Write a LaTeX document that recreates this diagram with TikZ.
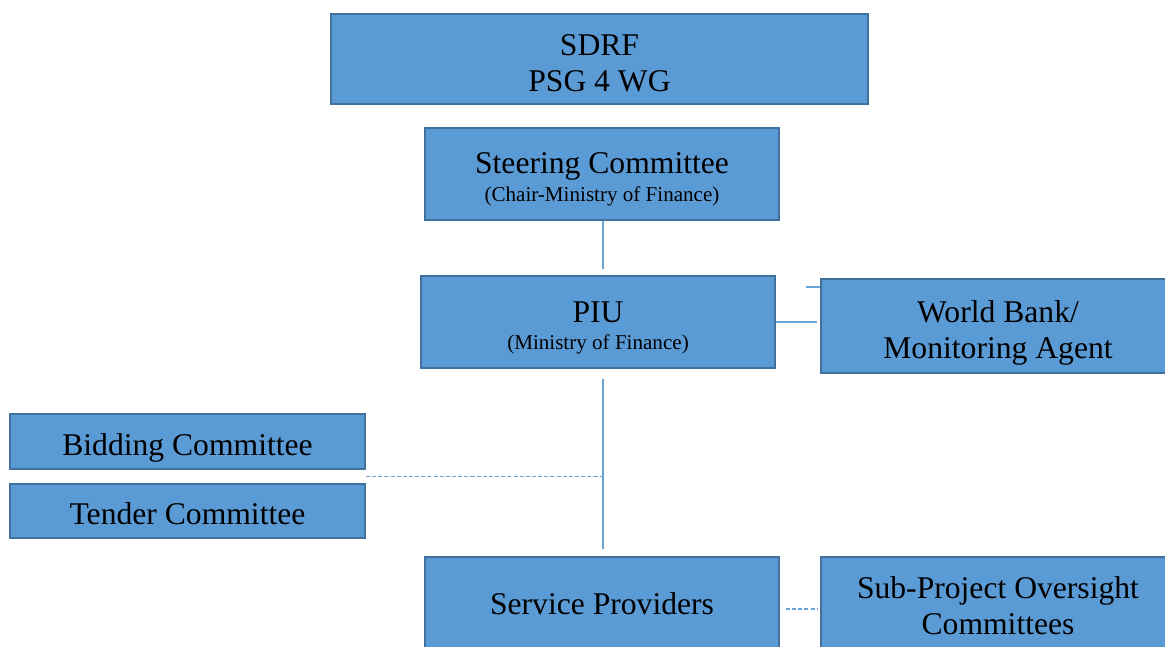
\documentclass[tikz,border=0pt]{standalone}
\usepackage{fontspec}
\setmainfont{Liberation Serif}
\usepackage{xcolor}
\usetikzlibrary{positioning,calc}
\definecolor{boxfill}{HTML}{5B9BD5}
\definecolor{boxline}{HTML}{41719C}
\definecolor{connline}{HTML}{6AA3D8}
\newcommand{\toppad}[1]{\rule{0pt}{#1}}
\newcommand{\subline}{\fontsize{12}{14}\selectfont}

\begin{document}
\begin{tikzpicture}[
    x=0.02cm, y=-0.02cm,
    orgbox/.style={rectangle, draw=boxline, fill=boxfill, line width=1.1pt,
        minimum width=7.08cm, minimum height=1.84cm, align=center,
        inner sep=0pt, font=\fontsize{18}{20.5}\selectfont},
    conn/.style={draw=connline, line width=0.8pt},
    dashconn/.style={conn, dash pattern=on 2.3pt off 1.2pt}
]
    \clip (0,0) rectangle (1165,646);

    % Top
    \node[orgbox, minimum width=10.74cm, minimum height=1.8cm] (sdrf) at (599.5, 59) {\toppad{16.7pt}SDRF\\PSG 4 WG};
    \node[orgbox] (steer) at (602, 174) {\toppad{18pt}Steering Committee\\[-4.5pt]{\subline (Chair-Ministry of Finance)}};
    \node[orgbox] (piu) at (598, 322) {\toppad{18.6pt}PIU\\[-5pt]{\subline (Ministry of Finance)}};
    \node[orgbox, minimum height=1.88cm] (wb) at (998, 326) {\toppad{20.4pt}World Bank/\\Monitoring Agent};

    % Committees
    \node[orgbox, minimum width=7.1cm, minimum height=1.1cm] (bid) at (187.5, 441.5) {\toppad{20pt}Bidding Committee};
    \node[orgbox, minimum width=7.1cm, minimum height=1.08cm] (ten) at (187.5, 511) {\toppad{15.7pt}Tender Committee};

    % Bottom
    \node[orgbox, minimum height=1.88cm] (sp) at (602, 604) {Service Providers};
    \node[orgbox, minimum height=1.88cm] (sub) at (998, 604) {\toppad{14.6pt}Sub-Project Oversight\\Committees};

    % Connectors
    \draw[conn, shorten >=0.12cm] ($(steer.south)+(1,0)$) -- ($(steer.south |- piu.north)+(1,0)$);
    \draw[conn, shorten >=0.06cm] (piu.east) -- (piu.east -| wb.west);
    \coordinate (wbstub) at (806, 287);
    \draw[conn] (wbstub) -- (wbstub -| wb.west);
    \draw[conn, shorten <=0.2cm, shorten >=0.14cm] ($(piu.south -| sp.north)+(1,0)$) -- ($(sp.north)+(1,0)$);
    \coordinate (cmt) at ($(bid.south east)!0.5!(ten.north east)$);
    \draw[dashconn] (cmt) -- (cmt -| sp.north);
    \draw[dashconn, shorten <=0.12cm, shorten >=0.06cm] ([yshift=-0.1cm]sp.east) -- ([yshift=-0.1cm]sub.west);
\end{tikzpicture}
\end{document}
